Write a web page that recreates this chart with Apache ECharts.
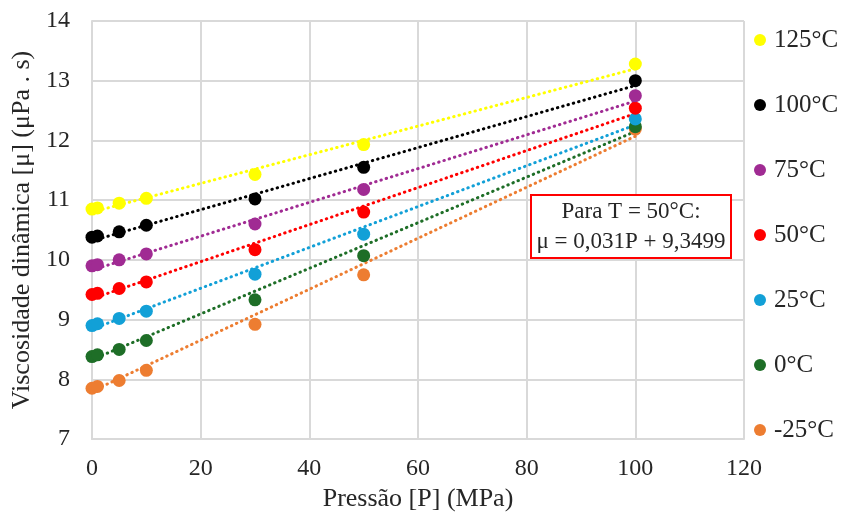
<!DOCTYPE html>
<html><head><meta charset="utf-8">
<script src="https://cdn.jsdelivr.net/npm/echarts@6/dist/echarts.min.js"></script>
<style>html,body{margin:0;padding:0;background:#fff}#c{width:846px;height:523px}</style>
</head><body><div id="c"></div>
<script>
const pressures = [0, 1, 5, 10, 30, 50, 100];
const seriesNames = ['-25°C', '0°C', '25°C', '50°C', '75°C', '100°C', '125°C'];
const values = {
  '-25°C': [7.85, 7.88, 7.98, 8.15, 8.92, 9.75, 12.19],
  '0°C':   [8.38, 8.41, 8.50, 8.65, 9.33, 10.07, 12.23],
  '25°C':  [8.90, 8.93, 9.02, 9.14, 9.76, 10.43, 12.36],
  '50°C':  [9.42, 9.44, 9.52, 9.63, 10.17, 10.80, 12.54],
  '75°C':  [9.90, 9.92, 10.00, 10.10, 10.60, 11.18, 12.75],
  '100°C': [10.38, 10.40, 10.47, 10.58, 11.02, 11.55, 13.00],
  '125°C': [10.85, 10.87, 10.95, 11.03, 11.43, 11.93, 13.28]
};
// trendline endpoints (at P = 0 and P = 100)
const trendX = [0, 100];
const trendStart = [7.80, 8.33, 8.84, 9.35, 9.83, 10.32, 10.80];
const trendEnd   = [12.07, 12.15, 12.26, 12.45, 12.66, 12.92, 13.20];
const colors = ['#ED7D31', '#1E6E27', '#12A0D7', '#FF0000', '#A02B93', '#000000', '#FFFF00'];
const legendOrder = ['125°C', '100°C', '75°C', '50°C', '25°C', '0°C', '-25°C'];
const xTicks = {min: 0, max: 120, interval: 20};
const yTicks = {min: 7, max: 14, interval: 1};

const font = 'Liberation Serif';
const txt = '#262626';
const series = [];
seriesNames.forEach((n, i) => {
  series.push({
    name: n + ' trend', type: 'line', symbol: 'none', silent: true, z: 2,
    data: trendX.map((x, k) => [x, k === 0 ? trendStart[i] : trendEnd[i]]),
    lineStyle: {color: colors[i], width: 3, type: [0.5, 5], cap: 'round'}
  });
});
seriesNames.forEach((n, i) => {
  series.push({
    name: n, type: 'scatter', symbol: 'circle', symbolSize: 13, z: 3,
    itemStyle: {color: colors[i], opacity: 1},
    data: pressures.map((p, k) => [p, values[n][k]])
  });
});

const chart = echarts.init(document.getElementById('c'));
chart.setOption({
  animation: false,
  color: colors,
  grid: {left: 92, right: 102, top: 21, bottom: 84},
  xAxis: {
    type: 'value', min: xTicks.min, max: xTicks.max, interval: xTicks.interval,
    name: 'Pressão [P] (MPa)', nameLocation: 'middle', nameGap: 38,
    nameTextStyle: {fontFamily: font, fontSize: 26, color: txt},
    axisLine: {show: true, lineStyle: {color: '#d9d9d9', width: 2}},
    axisTick: {show: false},
    axisLabel: {fontFamily: font, fontSize: 24, color: txt, margin: 18},
    splitLine: {show: true, lineStyle: {color: '#d9d9d9', width: 2}}
  },
  yAxis: {
    type: 'value', min: yTicks.min, max: yTicks.max, interval: yTicks.interval,
    name: 'Viscosidade dinâmica [μ] (μPa . s)', nameLocation: 'middle', nameGap: 47,
    nameTextStyle: {fontFamily: font, fontSize: 26, color: txt},
    axisLine: {show: true, lineStyle: {color: '#d9d9d9', width: 2}},
    axisTick: {show: false},
    axisLabel: {fontFamily: font, fontSize: 24, color: txt, margin: 22},
    splitLine: {show: true, lineStyle: {color: '#d9d9d9', width: 2}}
  },
  legend: {
    data: legendOrder, orient: 'vertical', left: 749, top: 22,
    itemWidth: 12, itemHeight: 12, itemGap: 39, icon: 'circle',
    textStyle: {fontFamily: font, fontSize: 25, color: txt, lineHeight: 26, padding: [0, 0, 0, 3]}
  },
  graphic: [{
    type: 'group', left: 530, top: 194, z: 100,
    children: [
      {type: 'rect', z: 100, shape: {x: 1, y: 1, width: 200, height: 63}, style: {fill: '#fff', stroke: '#FF0000', lineWidth: 2}},
      {type: 'text', z: 101, style: {x: 101, y: 6, text: 'Para T = 50°C:', textAlign: 'center', fontFamily: font, fontSize: 23, fill: txt}},
      {type: 'text', z: 101, style: {x: 101, y: 36, text: 'μ = 0,031P + 9,3499', textAlign: 'center', fontFamily: font, fontSize: 23, fill: txt}}
    ]
  }],
  series: series
});
</script></body></html>
